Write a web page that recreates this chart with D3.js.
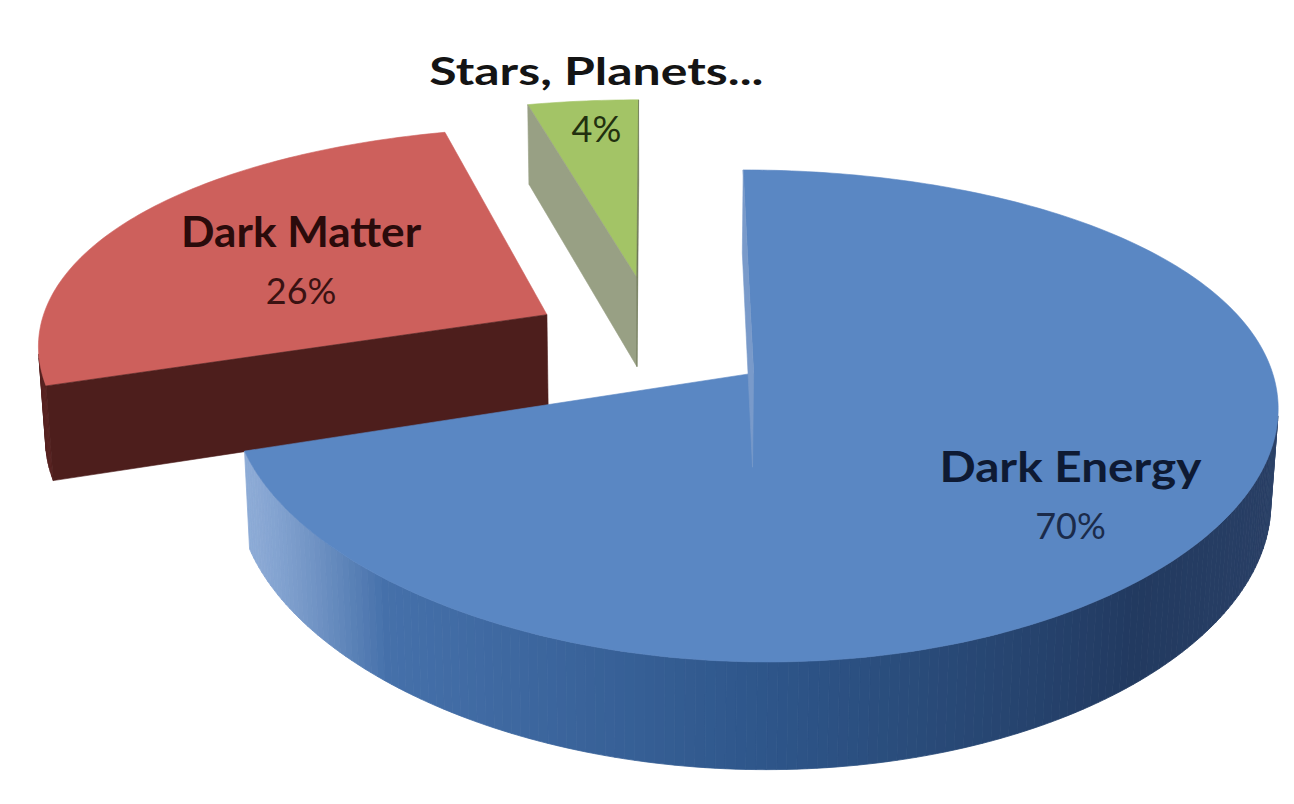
<!DOCTYPE html>
<html><head><meta charset="utf-8">
<script src="https://cdn.jsdelivr.net/npm/d3@7"></script>
<style>html,body{margin:0;padding:0;background:#fff;} svg{display:block}</style>
</head><body>
<svg id="chart" width="1294" height="804"></svg>
<script>
// ---- data ----
const categories = ["Dark Energy", "Dark Matter", "Stars, Planets..."];
const values = [70, 26, 4];
const valueLabels = ["70%", "26%", "4%"];

// ---- styles ----
const topColors = ["#5A87C3", "#CD605C", "#A3C466"];
const wallDomain = [-1, -0.85, -0.4, 0.3, 0.85, 1];
const wallColors = [
  ["#56698a", "#2a4066", "#223a60", "#2E568A", "#4570AA", "#8DABD6"],
  ["#4a1c1b", "#4a1c1b", "#4b1c1b", "#4F1F1D", "#52201e", "#55211f"],
  ["#6f7858", "#6f7858", "#737c5c", "#838c6e", "#929a7e", "#98A084"]
];
const labelColors = ["#0E1A33", "#2A0B0B", "#141414"];
const valueColors = ["#1B2B4A", "#3A1212", "#22300F"];
const explode = [0.235, 0.245, 0.295];
const labelR = [0.736, 0.57, 1.01];
const labelShiftDeg = [4.0, -2.1, 1.8];
const nameSize = [42, 42, 38];
const nameWidth = [262, 240, 334];
const valueSize = 36;

// ---- projection ----
const cam = {D: 5.3, s: 0.436, px: 0.7, t: 0.2};
cam.c = Math.sqrt(1 - cam.s * cam.s);
const xScale = d3.scaleLinear().domain([-1, 1]).range([655 - 510.4, 655 + 510.4]);
const yScale = d3.scaleLinear().domain([-1, 1]).range([341 - 521.8, 341 + 521.8]);
function proj(p) {
  const [X, Y, Z] = p;
  const k = cam.D / (cam.D - (Y * cam.s + Z * cam.c));
  return [xScale(X * Math.pow(k, cam.px)), yScale((Z * cam.s - Y * cam.c) * k)];
}
const L = (() => { const v = [-1, 0, 0.3]; const n = Math.hypot(...v); return v.map(d => d / n); })();

const svg = d3.select("#chart");
const pie = d3.pie().sort(null).value(d => d);
const arcs = pie(values);
const line = d3.line();

const slices = arcs.map((a, i) => {
  const mid = (a.startAngle + a.endAngle) / 2;
  const O = [explode[i] * Math.sin(mid), 0, -explode[i] * Math.cos(mid)];
  const pt = (th, r, Y) => [O[0] + r * Math.sin(th), Y, O[2] - r * Math.cos(th)];
  return {i, a, mid, O, pt, depth: O[2] - 0.5 * Math.cos(mid)};
});
slices.sort((p, q) => p.depth - q.depth);

// screen-space back-face test (faces wound so that visible ones have negative area)
function facing(pts2) {
  let s = 0;
  for (let k = 0; k < pts2.length; k++) {
    const [x1, y1] = pts2[k], [x2, y2] = pts2[(k + 1) % pts2.length];
    s += x1 * y2 - x2 * y1;
  }
  return s < 0;
}
function shade(i, n) {
  const I = n[0] * L[0] + n[1] * L[1] + n[2] * L[2];
  return d3.scaleLinear().domain(wallDomain).range(wallColors[i]).interpolate(d3.interpolateRgb)(I);
}

const g = svg.append("g");
slices.forEach(sl => {
  const {i, a, O, pt} = sl;
  const t = cam.t;
  const gs = g.append("g").attr("class", "slice-" + i);
  const steps = Math.max(2, Math.ceil((a.endAngle - a.startAngle) / (Math.PI / 180)));
  const walls = [];
  for (let j = 0; j < steps; j++) {
    const t0 = a.startAngle + (a.endAngle - a.startAngle) * j / steps;
    const t1 = a.startAngle + (a.endAngle - a.startAngle) * (j + 1) / steps;
    const tm = (t0 + t1) / 2;
    const n = [Math.sin(tm), 0, -Math.cos(tm)];
    const q2 = [pt(t0, 1, 0), pt(t1, 1, 0), pt(t1, 1, -t), pt(t0, 1, -t)].map(proj);
    if (!facing(q2)) continue;
    walls.push({q2, n, z: pt(tm, 1, 0)[2]});
  }
  walls.sort((p, q) => p.z - q.z);
  walls.forEach(w => {
    const c = shade(i, w.n);
    gs.append("path").attr("d", line(w.q2) + "Z")
      .attr("fill", c).attr("stroke", c).attr("stroke-width", 0.8);
  });
  // top face
  const topPts = [[O[0], 0, O[2]]];
  for (let j = 0; j <= steps; j++) {
    topPts.push(pt(a.startAngle + (a.endAngle - a.startAngle) * j / steps, 1, 0));
  }
  gs.append("path").attr("d", line(topPts.map(proj)) + "Z")
    .attr("fill", topColors[i]).attr("stroke", topColors[i]).attr("stroke-width", 0.6);
  // cut faces
  const cT = [O[0], 0, O[2]], cB = [O[0], -t, O[2]];
  const cuts = [
    {q: [cT, pt(a.startAngle, 1, 0), pt(a.startAngle, 1, -t), cB],
     n: [-Math.cos(a.startAngle), 0, -Math.sin(a.startAngle)]},
    {q: [pt(a.endAngle, 1, 0), cT, cB, pt(a.endAngle, 1, -t)],
     n: [Math.cos(a.endAngle), 0, Math.sin(a.endAngle)]}
  ];
  cuts.forEach(cf => {
    const q2 = cf.q.map(proj);
    if (!facing(q2)) return;
    const c = shade(i, cf.n);
    gs.append("path").attr("d", line(q2) + "Z")
      .attr("fill", c).attr("stroke", c).attr("stroke-width", 0.6);
  });
});

// labels
const lg = svg.append("g").attr("font-family", "Lato, 'Open Sans', sans-serif").attr("text-anchor", "middle");
slices.slice().sort((p, q) => p.i - q.i).forEach(sl => {
  const {i, mid, pt} = sl;
  const th = mid + labelShiftDeg[i] * Math.PI / 180;
  const [ax, ay] = proj(pt(th, labelR[i], 0));
  lg.append("text").attr("x", ax).attr("y", ay - 14)
    .attr("font-size", nameSize[i]).attr("font-weight", 700)
    .attr("fill", labelColors[i])
    .attr("textLength", nameWidth[i]).attr("lengthAdjust", "spacingAndGlyphs")
    .text(categories[i]);
  lg.append("text").attr("x", ax).attr("y", ay + 43)
    .attr("font-size", valueSize).attr("font-weight", 400)
    .attr("fill", valueColors[i])
    .text(valueLabels[i]);
});
</script>
</body></html>
